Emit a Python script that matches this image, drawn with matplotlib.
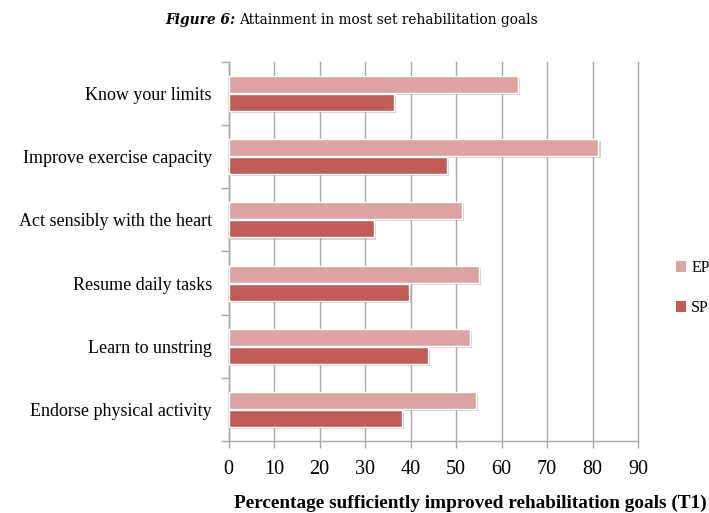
import matplotlib.pyplot as plt
import matplotlib.patheffects as pe
import numpy as np
from matplotlib.patches import Patch

# goals, top to bottom
goals = ['Know your limits', 'Improve exercise capacity',
         'Act sensibly with the heart', 'Resume daily tasks',
         'Learn to unstring', 'Endorse physical activity']
ep_values = [63.7, 81.3, 51.3, 55.1, 53.1, 54.4]
sp_values = [36.4, 48.1, 32.0, 39.7, 43.9, 38.1]
x_ticks = [0, 10, 20, 30, 40, 50, 60, 70, 80, 90]

ep_color = '#DBA3A2'
sp_color = '#BF5C55'
grid_color = '#A8A8A8'
serif = 'Liberation Serif'

fig = plt.figure(figsize=(7.09, 5.13), dpi=100)
ax = fig.add_axes([0.3223, 0.1404, 0.5776, 0.7387])

y = np.arange(len(goals))
shadow = [pe.SimplePatchShadow(offset=(1.5, -1.5), shadow_rgbFace='#777777', alpha=0.35),
          pe.Normal()]
h = 0.27
ax.barh(y - 0.143, ep_values, height=h, color=ep_color, edgecolor='white',
        linewidth=1, path_effects=shadow, zorder=3)
ax.barh(y + 0.143, sp_values, height=h, color=sp_color, edgecolor='white',
        linewidth=1, path_effects=shadow, zorder=3)

ax.set_xlim(0, 90)
ax.set_ylim(len(goals) - 0.5, -0.5)
ax.set_xticks(x_ticks)
ax.set_xticklabels([str(t) for t in x_ticks], fontfamily=serif, fontsize=14.5)
ax.set_yticks(y)
ax.set_yticklabels(goals, fontfamily=serif, fontsize=13)
ax.set_yticks(np.arange(-0.5, len(goals)), minor=True)

ax.tick_params(axis='y', which='major', length=0, pad=12)
ax.tick_params(axis='y', which='minor', length=6, color=grid_color, width=1)
ax.tick_params(axis='x', length=5, color=grid_color, width=1, pad=9)

ax.grid(axis='x', color=grid_color, linewidth=1, zorder=0)
for line in ax.get_xgridlines():
    line.set_clip_on(False)
ax.set_axisbelow(True)
for side in ['top', 'right']:
    ax.spines[side].set_visible(False)
for side in ['left', 'bottom']:
    ax.spines[side].set_color(grid_color)
    ax.spines[side].set_linewidth(1)

# legend on the right
handles = [Patch(facecolor=ep_color, label='EP'), Patch(facecolor=sp_color, label='SP')]
fig.legend(handles=handles, loc='center left', bbox_to_anchor=(676 / 709, 1 - 288 / 513),
           frameon=False, borderpad=0, borderaxespad=0,
           handlelength=0.65, handleheight=0.65, handletextpad=0.3,
           labelspacing=1.5, prop={'family': serif, 'size': 11.5})

fig.text(234 / 709, 1 - 503 / 513, 'Percentage sufficiently improved rehabilitation goals (T1)',
         fontfamily=serif, fontweight='bold', fontsize=13.9, va='center', ha='left')

# title: bold italic lead-in followed by plain text
t1 = fig.text(165 / 709, 1 - 20 / 513, 'Figure 6:', fontfamily='DejaVu Serif',
              fontweight='bold', fontstyle='italic', fontsize=9.9, va='center', ha='left')
fig.canvas.draw()
bb = t1.get_window_extent()
fig.text((bb.x1 + 4) / fig.bbox.width, 1 - 20 / 513, 'Attainment in most set rehabilitation goals',
         fontfamily='DejaVu Serif', fontsize=9.9, va='center', ha='left')

fig.savefig('out.png', dpi=100)
